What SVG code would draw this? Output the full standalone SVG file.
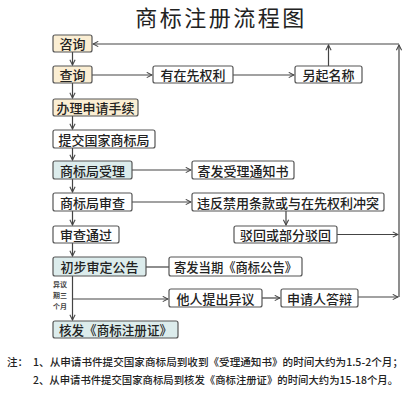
<svg xmlns="http://www.w3.org/2000/svg" width="420" height="407" viewBox="0 0 420 407">
<defs>
<marker id="ah" viewBox="0 0 8 8" refX="7" refY="4" markerWidth="7" markerHeight="7" markerUnits="userSpaceOnUse" orient="auto">
<polyline points="1,1 7,4 1,7" fill="none" stroke="#444" stroke-width="1.2"/>
</marker>
</defs>
<style>
text{font-family:"Noto Sans CJK SC","Liberation Sans",sans-serif;fill:#222}
.b{fill:#fff;stroke:#555;stroke-width:1.2}
.y{fill:#fbeed3}
.c{fill:#dcecec}
.t{font-size:13px;font-weight:500;text-anchor:middle;dominant-baseline:central}
.l{fill:none;stroke:#444;stroke-width:1.2}
.a{marker-end:url(#ah)}
.n{font-size:10.5px;font-weight:500}
.s{font-size:7px;font-weight:bold;fill:#444}
</style>
<rect width="420" height="407" fill="#fff"/>
<text x="221" y="26" font-size="22" text-anchor="middle" letter-spacing="2.5">商标注册流程图</text>

<g id="connectors">
<path class="l a" d="M72.5,52 V65"/>
<path class="l a" d="M72.5,83 V98"/>
<path class="l a" d="M72.5,116 V129"/>
<path class="l a" d="M72.5,148 V160"/>
<path class="l a" d="M72.5,179 V192"/>
<path class="l a" d="M72.5,211 V225"/>
<path class="l a" d="M72.5,243 V256"/>
<path class="l a" d="M72.5,276 V320"/>
<path class="l a" d="M72.5,299 H168"/>
<path class="l a" d="M92,75 H152"/>
<path class="l a" d="M233,75 H294"/>
<path class="l a" d="M328.5,66 V45"/>
<path class="l a" d="M399,297 V45"/>
<path class="l a" d="M399,44 H93"/>
<path class="l a" d="M132,170 H191"/>
<path class="l a" d="M132,202 H191"/>
<path class="l a" d="M286,211 V225"/>
<path class="l a" d="M337,234.5 H398"/>
<path class="l" d="M146,267 H169"/>
<path class="l a" d="M262,298 H280"/>
<path class="l a" d="M358,297 H398"/>
</g>

<g id="n1"><rect class="b y" x="53" y="35" width="39" height="17" rx="2"/><text class="t" x="72.5" y="43.5">咨询</text></g>
<g id="n2"><rect class="b y" x="53" y="66" width="39" height="17" rx="2"/><text class="t" x="72.5" y="74.5">查询</text></g>
<g id="n3"><rect class="b y" x="53" y="99" width="85" height="17" rx="2"/><text class="t" x="95.5" y="107.5">办理申请手续</text></g>
<g id="n4"><rect class="b" x="53" y="130" width="102" height="18" rx="2"/><text class="t" x="104" y="139">提交国家商标局</text></g>
<g id="n5"><rect class="b c" x="53" y="161" width="79" height="18" rx="2"/><text class="t" x="92.5" y="170">商标局受理</text></g>
<g id="n6"><rect class="b" x="53" y="193" width="79" height="18" rx="2"/><text class="t" x="92.5" y="202">商标局审查</text></g>
<g id="n7"><rect class="b" x="53" y="226" width="66" height="17" rx="2"/><text class="t" x="86" y="234.5">审查通过</text></g>
<g id="n8"><rect class="b c" x="53" y="257" width="93" height="19" rx="2"/><text class="t" x="99.5" y="266.5">初步审定公告</text></g>
<g id="n9"><rect class="b c" x="53" y="321" width="125" height="17" rx="2"/><text class="t" x="115.5" y="329.5" textLength="113" lengthAdjust="spacingAndGlyphs">核发《商标注册证》</text></g>
<g id="n10"><rect class="b" x="153" y="66" width="80" height="17" rx="2"/><text class="t" x="193" y="74.5">有在先权利</text></g>
<g id="n11"><rect class="b" x="295" y="66" width="67" height="17" rx="2"/><text class="t" x="328.5" y="74.5">另起名称</text></g>
<g id="n12"><rect class="b" x="192" y="161" width="102" height="18" rx="2"/><text class="t" x="243" y="170">寄发受理通知书</text></g>
<g id="n13"><rect class="b" x="192" y="193" width="192" height="18" rx="2"/><text class="t" x="288" y="202">违反禁用条款或与在先权利冲突</text></g>
<g id="n14"><rect class="b" x="234" y="226" width="103" height="17" rx="2"/><text class="t" x="285.5" y="234.5">驳回或部分驳回</text></g>
<g id="n15"><rect class="b" x="169" y="257" width="133" height="19" rx="2"/><text class="t" x="235.5" y="266.5" textLength="123" lengthAdjust="spacingAndGlyphs">寄发当期《商标公告》</text></g>
<g id="n16"><rect class="b" x="169" y="289" width="93" height="18" rx="2"/><text class="t" x="215.5" y="298">他人提出异议</text></g>
<g id="n17"><rect class="b" x="281" y="289" width="77" height="18" rx="2"/><text class="t" x="319.5" y="298">申请人答辩</text></g>

<text class="s" x="53" y="287">异议</text>
<text class="s" x="53" y="298">期三</text>
<text class="s" x="53" y="309">个月</text>

<text class="n" x="7" y="366">注：</text>
<text class="n" x="33" y="366" textLength="370" lengthAdjust="spacingAndGlyphs">1、从申请书件提交国家商标局到收到《受理通知书》的时间大约为1.5-2个月；</text>
<text class="n" x="33" y="384" textLength="365" lengthAdjust="spacingAndGlyphs">2、从申请书件提交国家商标局到核发《商标注册证》的时间大约为15-18个月。</text>
</svg>
